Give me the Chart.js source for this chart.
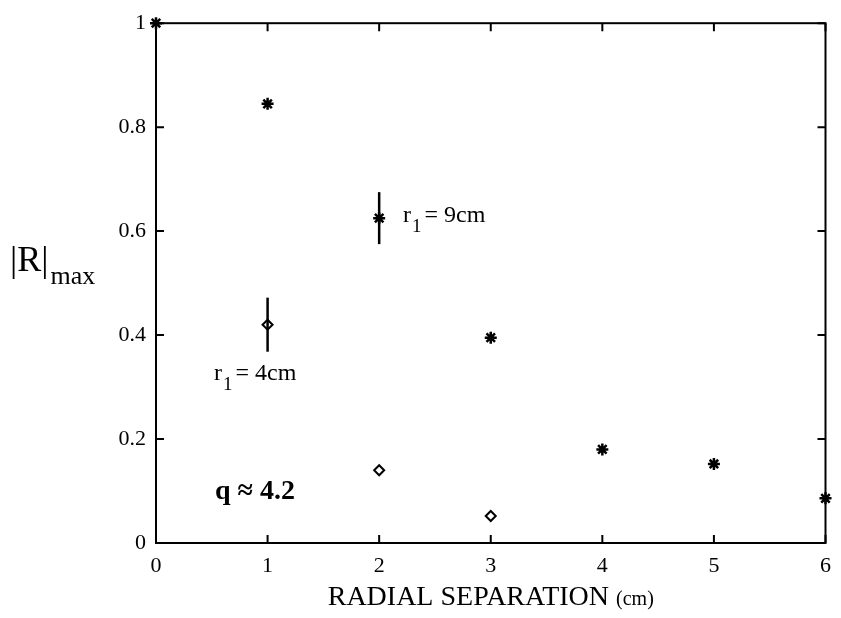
<!DOCTYPE html>
<html>
<head>
<meta charset="utf-8">
<script src="https://cdn.jsdelivr.net/npm/chart.js@4"></script>
<style>
  html, body { margin: 0; padding: 0; background: #fff; }
  #wrap { width: 841px; height: 618px; }
</style>
</head>
<body>
<div id="wrap"><canvas id="chart" width="841" height="618"></canvas></div>
<script>
// radial separation (cm)
const sepFar = [0, 1, 2, 3, 4, 5, 6];
const rFar = [1.0, 0.845, 0.625, 0.395, 0.18, 0.152, 0.086];   // r1 = 9cm
const errFar = [0, 0, 0.05, 0, 0, 0, 0];

const sepNear = [1, 2, 3];
const rNear = [0.42, 0.14, 0.052];   // r1 = 4cm
const errNear = [0.052, 0, 0];

const xTicks = [0, 1, 2, 3, 4, 5, 6];
const yTicks = [0, 0.2, 0.4, 0.6, 0.8, 1];

const serif = '"Liberation Serif", "DejaVu Serif", serif';

function toPoints(xs, ys, es) {
    return xs.map((x, i) => ({ x: x, y: ys[i], err: es[i] }));
}

// error bars, inward ticks on all four sides, and the free text
const extras = {
    id: 'extras',
    afterDatasetsDraw(chart) {
        const ctx = chart.ctx;
        const xs = chart.scales.x, ys = chart.scales.y;
        const a = chart.chartArea;
        ctx.save();
        ctx.strokeStyle = '#000';
        ctx.lineWidth = 2.5;
        chart.data.datasets.forEach(ds => {
            ds.data.forEach(p => {
                if (!p.err) return;
                const px = xs.getPixelForValue(p.x);
                ctx.beginPath();
                ctx.moveTo(px, ys.getPixelForValue(p.y - p.err));
                ctx.lineTo(px, ys.getPixelForValue(p.y + p.err));
                ctx.stroke();
            });
        });

        // box
        ctx.lineWidth = 2;
        ctx.strokeRect(a.left, a.top, a.right - a.left, a.bottom - a.top);
        // ticks
        const t = 8;
        ctx.beginPath();
        xTicks.forEach(v => {
            const px = xs.getPixelForValue(v);
            ctx.moveTo(px, a.bottom); ctx.lineTo(px, a.bottom - t);
            ctx.moveTo(px, a.top); ctx.lineTo(px, a.top + t);
        });
        yTicks.forEach(v => {
            const py = ys.getPixelForValue(v);
            ctx.moveTo(a.left, py); ctx.lineTo(a.left + t, py);
            ctx.moveTo(a.right, py); ctx.lineTo(a.right - t, py);
        });
        ctx.stroke();

        ctx.fillStyle = '#000';
        ctx.textBaseline = 'alphabetic';
        ctx.textAlign = 'left';

        // r1 labels
        function rLabel(txt, x, y) {
            ctx.font = '24px ' + serif;
            ctx.fillText('r', x, y);
            const w = ctx.measureText('r').width;
            ctx.font = '19px ' + serif;
            ctx.fillText('1', x + w + 1, y + 10);
            const w1 = ctx.measureText('1').width;
            ctx.font = '24px ' + serif;
            ctx.fillText(txt, x + w + w1 + 4, y);
        }
        rLabel('= 9cm', 403, 222);
        rLabel('= 4cm', 214, 380);

        ctx.font = 'bold 28px ' + serif;
        ctx.fillText('q \u2248 4.2', 215, 499);

        // y title |R|max
        ctx.font = '36px ' + serif;
        ctx.fillText('|R|', 10, 271);
        const wr = ctx.measureText('|R|').width;
        ctx.font = '26px ' + serif;
        ctx.fillText('max', 10 + wr + 2, 284);

        // x title
        ctx.font = '28px ' + serif;
        const main = 'RADIAL SEPARATION ';
        const wm = ctx.measureText(main).width;
        ctx.font = '20px ' + serif;
        const wc = ctx.measureText('(cm)').width;
        const x0 = (a.left + a.right) / 2 - (wm + wc) / 2;
        ctx.font = '28px ' + serif;
        ctx.fillText(main, x0, 605);
        ctx.font = '20px ' + serif;
        ctx.fillText('(cm)', x0 + wm, 605);
        ctx.restore();
    }
};

new Chart(document.getElementById('chart'), {
    type: 'scatter',
    data: {
        datasets: [{
            label: 'r1 = 9cm',
            data: toPoints(sepFar, rFar, errFar),
            pointStyle: 'star',
            radius: 6,
            borderWidth: 2.5,
            borderColor: '#000',
            backgroundColor: '#000',
        }, {
            label: 'r1 = 4cm',
            data: toPoints(sepNear, rNear, errNear),
            pointStyle: 'rectRot',
            radius: 5,
            borderWidth: 2,
            borderColor: '#000',
            backgroundColor: '#fff',
        }]
    },
    options: {
        responsive: false,
        animation: false,
        clip: false,
        layout: { padding: { left: 0, right: 14, top: 15, bottom: 0 } },
        plugins: { legend: { display: false }, tooltip: { enabled: false } },
        scales: {
            x: {
                type: 'linear', min: 0, max: 6,
                afterBuildTicks: s => { s.ticks = xTicks.map(v => ({ value: v })); },
                afterFit: s => { s.height = 75; },
                grid: { display: false, drawTicks: false },
                border: { display: false },
                ticks: { color: '#000', padding: 10, font: { family: serif, size: 22 } }
            },
            y: {
                type: 'linear', min: 0, max: 1,
                afterBuildTicks: s => { s.ticks = yTicks.map(v => ({ value: v })); },
                afterFit: s => { s.width = 156; },
                grid: { display: false, drawTicks: false },
                border: { display: false },
                ticks: {
                    color: '#000', padding: 10, font: { family: serif, size: 22 },
                    callback: v => String(v)
                }
            }
        }
    },
    plugins: [extras]
});
</script>
</body>
</html>
